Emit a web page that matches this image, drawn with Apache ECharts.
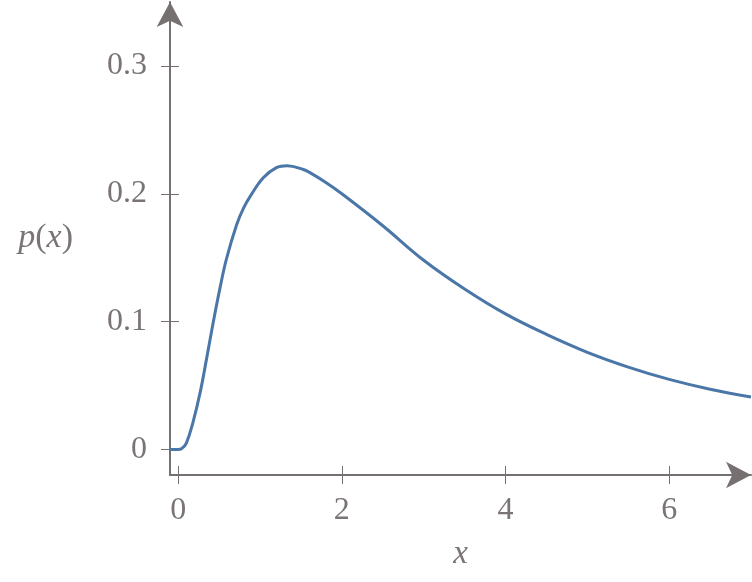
<!DOCTYPE html>
<html>
<head>
<meta charset="utf-8">
<script src="https://cdn.jsdelivr.net/npm/echarts@6/dist/echarts.min.js"></script>
<style>
html,body{margin:0;padding:0;background:#fff;}
#chart{width:752px;height:582px;}
</style>
</head>
<body>
<div id="chart"></div>
<script>
// Data
const xValues = [-0.1, 0, 0.04, 0.1, 0.18, 0.27, 0.35, 0.43, 0.51, 0.59, 0.715, 0.8, 0.88, 1.04, 1.2, 1.33, 1.53, 1.61, 1.8, 2.0, 2.5, 3.0, 3.5, 4.0, 4.5, 5.0, 5.5, 6.0, 6.5, 7.0];
const pValues = [0, 0, 0.0005, 0.005, 0.021, 0.045, 0.072, 0.100, 0.126, 0.149, 0.176, 0.189, 0.198, 0.2125, 0.2205, 0.222, 0.219, 0.2165, 0.209, 0.200, 0.175, 0.148, 0.1255, 0.106, 0.090, 0.076, 0.0644, 0.0548, 0.0471, 0.041];
const xTicks = [0, 2, 4, 6];
const yTicks = [0, 0.1, 0.2, 0.3];

const axisColor = '#767070';
const textColor = '#7a7474';
const fontFam = '"Liberation Serif", "DejaVu Serif", serif';

const chart = echarts.init(document.getElementById('chart'));
const points = xValues.map((x, i) => [x, pValues[i]]);

const baseX = {
  type: 'value', min: -0.1, max: 7, position: 'bottom',
  splitLine: {show: false}
};
const baseY = {
  type: 'value', min: -0.02, max: 0.35, position: 'left',
  splitLine: {show: false}
};

chart.setOption({
  animation: false,
  grid: {left: 170, right: 1, top: 2, bottom: 107, containLabel: false},
  xAxis: [
    Object.assign({}, baseX, {
      name: '{i|x}',
      nameLocation: 'middle',
      nameGap: 63,
      nameTextStyle: {rich: {i: {fontFamily: fontFam, fontStyle: 'italic', fontSize: 33, color: textColor}}},
      axisLine: {onZero: false, lineStyle: {color: axisColor, width: 2}, symbol: ['none', 'arrow'], symbolSize: [20, 25], symbolOffset: [0, 0]},
      axisTick: {show: true, inside: false, length: 9, customValues: xTicks, lineStyle: {color: axisColor, width: 1}},
      axisLabel: {show: true, customValues: xTicks, margin: 20, fontFamily: fontFam, fontSize: 32, color: textColor, formatter: v => String(v)}
    }),
    Object.assign({}, baseX, {
      axisLine: {show: false, onZero: false},
      axisTick: {show: true, inside: true, length: 9, customValues: xTicks, lineStyle: {color: axisColor, width: 1}},
      axisLabel: {show: false}
    })
  ],
  yAxis: [
    Object.assign({}, baseY, {
      name: '{i|p}({i|x})',
      nameLocation: 'middle',
      nameGap: 97,
      nameRotate: 0,
      nameTextStyle: {fontFamily: fontFam, fontSize: 34, color: textColor, rich: {i: {fontFamily: fontFam, fontStyle: 'italic', fontSize: 34, color: textColor}}},
      axisLine: {onZero: false, lineStyle: {color: axisColor, width: 2}, symbol: ['none', 'arrow'], symbolSize: [20, 25], symbolOffset: [0, 0]},
      axisTick: {show: true, inside: false, length: 9, customValues: yTicks, lineStyle: {color: axisColor, width: 1}},
      axisLabel: {show: true, customValues: yTicks, margin: 23, fontFamily: fontFam, fontSize: 32, color: textColor, formatter: v => (v === 0 ? '0' : String(Math.round(v * 10) / 10))}
    }),
    Object.assign({}, baseY, {
      axisLine: {show: false, onZero: false},
      axisTick: {show: true, inside: true, length: 9, customValues: yTicks, lineStyle: {color: axisColor, width: 1}},
      axisLabel: {show: false}
    })
  ],
  series: [{
    type: 'line',
    xAxisIndex: 0,
    yAxisIndex: 0,
    data: points,
    smooth: 0.4,
    showSymbol: false,
    lineStyle: {color: '#4a76a8', width: 3},
    clip: false
  }]
});
</script>
</body>
</html>
